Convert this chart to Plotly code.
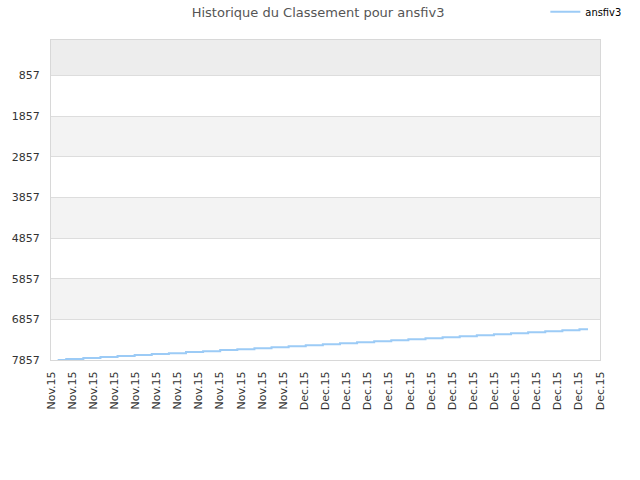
import numpy as np
import plotly.graph_objects as go

# Historique du classement (un point par jour)
jours = list(range(32))
classement = [7857, 7833, 7810, 7786, 7761, 7737, 7712, 7688, 7663, 7639,
              7614, 7590, 7566, 7541, 7517, 7492, 7468, 7443, 7419, 7394,
              7370, 7346, 7321, 7297, 7272, 7248, 7223, 7199, 7175, 7150,
              7126, 7101]

etiquettes_x = ["Nov.15"] * 12 + ["Dec.15"] * 15
valeurs_y = [857, 1857, 2857, 3857, 4857, 5857, 6857, 7857]

x_min, x_max = -0.39, 31.7
y_haut, y_bas = -15, 7857

fig = go.Figure()

# bandes alternees du fond
bandes = [dict(type="rect", xref="paper", yref="y", x0=0, x1=1,
               y0=y_haut, y1=valeurs_y[0], fillcolor="#ededed",
               line_width=0, layer="below")]
for i in range(1, len(valeurs_y) - 1, 2):
    bandes.append(dict(type="rect", xref="paper", yref="y", x0=0, x1=1,
                       y0=valeurs_y[i], y1=valeurs_y[i + 1],
                       fillcolor="#f3f3f3", line_width=0, layer="below"))

fig.add_trace(
    go.Scatter(
        x=jours,
        y=classement,
        name="ansfiv3",
        mode="lines",
        line=dict(color="#9ccbf6", width=2, shape="hvh"),
    )
)

fig.update_layout(
    width=640,
    height=480,
    margin=dict(l=51, r=40, t=40, b=120, autoexpand=False),
    paper_bgcolor="white",
    plot_bgcolor="white",
    shapes=bandes,
    title=dict(text="Historique du Classement pour ansfiv3", x=0.497, xanchor="center",
               y=0.975, yanchor="middle",
               font=dict(family="DejaVu Sans", size=13, color="#555555")),
    showlegend=True,
    legend=dict(x=1.048, xanchor="right", y=1.088, yanchor="middle",
                font=dict(family="DejaVu Sans Condensed", size=11, color="black"),
                bgcolor="rgba(0,0,0,0)", itemwidth=30),
    font=dict(family="DejaVu Sans", size=11, color="#333333"),
)

fig.update_xaxes(
    range=[x_min, x_max],
    tickmode="array",
    tickvals=list(np.linspace(x_min, x_max, len(etiquettes_x))),
    ticktext=etiquettes_x,
    tickangle=-90,
    showgrid=False,
    zeroline=False,
    showline=True,
    linecolor="#d8d8d8",
    mirror=True,
    ticks="",
    ticklabelstandoff=6,
    automargin=False,
    tickfont=dict(size=11, color="#333333"),
)

fig.update_yaxes(
    range=[y_bas, y_haut],
    tickmode="array",
    tickvals=valeurs_y,
    ticktext=[str(v) for v in valeurs_y],
    showgrid=True,
    gridcolor="#dddddd",
    zeroline=False,
    showline=True,
    linecolor="#d8d8d8",
    mirror=True,
    ticks="",
    ticklabelstandoff=8,
    automargin=False,
    tickfont=dict(size=11, color="#333333"),
)

fig.write_html("out.html", config={"displayModeBar": False},
               post_script="document.body.style.margin='0';")
